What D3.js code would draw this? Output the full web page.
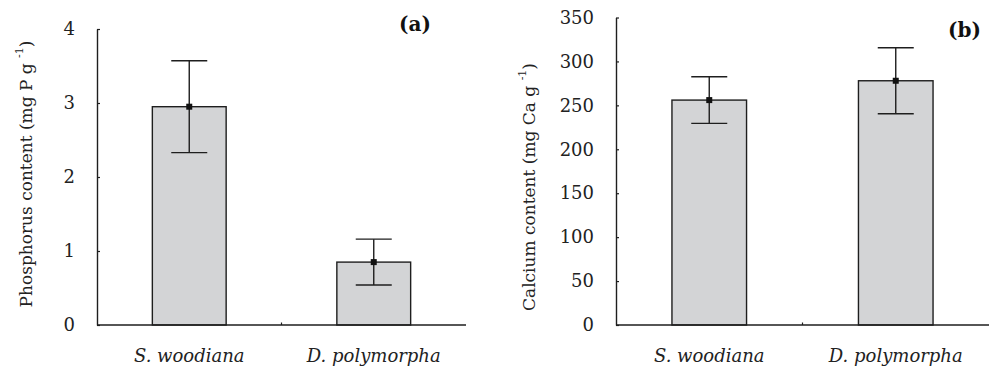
<!DOCTYPE html>
<html>
<head>
<meta charset="utf-8">
<script src="https://cdn.jsdelivr.net/npm/d3@7"></script>
<style>
  html, body { margin: 0; padding: 0; background: #fff; }
  svg { display: block; }
</style>
</head>
<body>
<svg id="chart" width="991" height="373"></svg>
<script>
// species on the x axis
var categories = ["S. woodiana", "D. polymorpha"];

// panel (a): phosphorus, mg P g-1
var phosphorus = [2.95, 0.85];
var phosphorusErr = [0.62, 0.31];
var phosphorusTicks = [0, 1, 2, 3, 4];

// panel (b): calcium, mg Ca g-1
var calcium = [256, 278];
var calciumErr = [26.5, 37.5];
var calciumTicks = [0, 50, 100, 150, 200, 250, 300, 350];

var svg = d3.select("#chart");
var font = "'DejaVu Serif', 'Liberation Serif', serif";
var barFill = "#d3d4d6";
var ink = "#1e1e1e";

function drawPanel(opts) {
  var g = svg.append("g");

  var x = d3.scaleBand()
    .domain(categories)
    .range([opts.left, opts.right])
    .paddingInner(0.6)
    .paddingOuter(0.3);

  var y = d3.scaleLinear()
    .domain([0, opts.max])
    .range([opts.bottom, opts.top]);

  var rows = categories.map(function (c, i) {
    return { cat: c, v: opts.values[i], e: opts.errors[i] };
  });

  // bars
  g.selectAll("rect.bar").data(rows).enter().append("rect")
    .attr("class", "bar")
    .attr("x", d => x(d.cat))
    .attr("y", d => y(d.v))
    .attr("width", x.bandwidth())
    .attr("height", d => y(0) - y(d.v))
    .attr("fill", barFill)
    .attr("stroke", ink)
    .attr("stroke-width", 1.4);

  // error bars
  var cap = 18;
  var eb = g.selectAll("g.err").data(rows).enter().append("g")
    .attr("class", "err")
    .attr("stroke", ink)
    .attr("stroke-width", 1.4);
  eb.append("line")
    .attr("x1", d => x(d.cat) + x.bandwidth() / 2)
    .attr("x2", d => x(d.cat) + x.bandwidth() / 2)
    .attr("y1", d => y(d.v + d.e))
    .attr("y2", d => y(d.v - d.e));
  eb.append("line")
    .attr("x1", d => x(d.cat) + x.bandwidth() / 2 - cap)
    .attr("x2", d => x(d.cat) + x.bandwidth() / 2 + cap)
    .attr("y1", d => y(d.v + d.e))
    .attr("y2", d => y(d.v + d.e));
  eb.append("line")
    .attr("x1", d => x(d.cat) + x.bandwidth() / 2 - cap)
    .attr("x2", d => x(d.cat) + x.bandwidth() / 2 + cap)
    .attr("y1", d => y(d.v - d.e))
    .attr("y2", d => y(d.v - d.e));

  // mean markers
  g.selectAll("rect.mean").data(rows).enter().append("rect")
    .attr("class", "mean")
    .attr("x", d => x(d.cat) + x.bandwidth() / 2 - 3)
    .attr("y", d => y(d.v) - 3)
    .attr("width", 6)
    .attr("height", 6)
    .attr("fill", "#111");

  // y axis, ticks pointing inward
  var yAxis = g.append("g")
    .attr("transform", "translate(" + opts.left + ",0)")
    .call(d3.axisLeft(y).tickValues(opts.ticks).tickFormat(d3.format("d"))
      .tickSize(-3).tickSizeOuter(0).tickPadding(22));
  yAxis.select(".domain").attr("stroke", ink).attr("stroke-width", 1.4);
  yAxis.selectAll(".tick line").attr("stroke", ink).attr("stroke-width", 1.2);
  yAxis.selectAll(".tick text")
    .attr("font-family", font)
    .attr("font-size", 18)
    .attr("fill", "#222");

  // x axis line with a small separator tick between the bars
  g.append("line")
    .attr("x1", opts.left).attr("x2", opts.right)
    .attr("y1", y(0)).attr("y2", y(0))
    .attr("stroke", ink).attr("stroke-width", 1.4);
  var mid = (x(categories[0]) + x.bandwidth() + x(categories[1])) / 2;
  g.append("line")
    .attr("x1", mid).attr("x2", mid)
    .attr("y1", y(0)).attr("y2", y(0) - 2.5)
    .attr("stroke", ink).attr("stroke-width", 1.2);

  g.selectAll("text.cat").data(categories).enter().append("text")
    .attr("class", "cat")
    .attr("x", d => x(d) + x.bandwidth() / 2)
    .attr("y", 362)
    .attr("text-anchor", "middle")
    .attr("font-family", font)
    .attr("font-style", "italic")
    .attr("font-size", 18)
    .attr("fill", "#222")
    .text(d => d);

  // y title with superscript
  var title = g.append("text")
    .attr("transform", "translate(" + opts.titleX + "," + opts.titleY + ") rotate(-90)")
    .attr("text-anchor", "middle")
    .attr("font-family", font)
    .attr("font-size", 17)
    .attr("fill", "#222");
  title.append("tspan").text(opts.title + " ");
  title.append("tspan").attr("font-size", 11).attr("dy", -9).text("-1");
  title.append("tspan").attr("dy", 9).text(")");

  // panel letter
  g.append("text")
    .attr("x", opts.tagX)
    .attr("y", opts.tagY)
    .attr("text-anchor", "end")
    .attr("font-family", font)
    .attr("font-weight", "bold")
    .attr("font-size", 20)
    .attr("fill", "#111")
    .text(opts.tag);
}

drawPanel({
  left: 97, right: 466, top: 29, bottom: 325, max: 4,
  values: phosphorus, errors: phosphorusErr, ticks: phosphorusTicks,
  title: "Phosphorus content (mg P g", titleX: 32, titleY: 174,
  tag: "(a)", tagX: 431, tagY: 31
});

drawPanel({
  left: 616, right: 989, top: 17.5, bottom: 325, max: 350,
  values: calcium, errors: calciumErr, ticks: calciumTicks,
  title: "Calcium content (mg Ca g", titleX: 535, titleY: 187,
  tag: "(b)", tagX: 981, tagY: 37
});
</script>
</body>
</html>
